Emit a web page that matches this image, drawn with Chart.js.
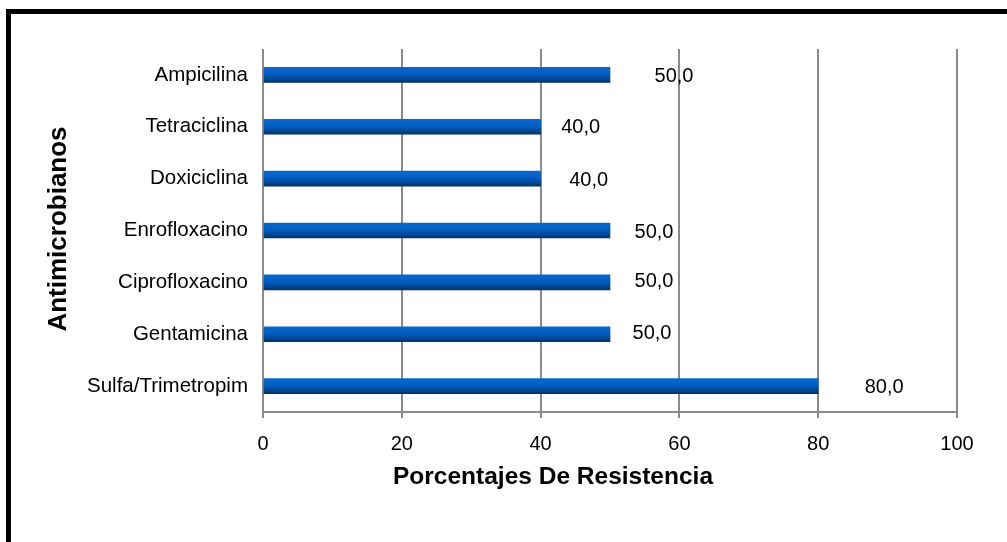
<!DOCTYPE html>
<html>
<head>
<meta charset="utf-8">
<title>Porcentajes De Resistencia</title>
<script src="https://cdn.jsdelivr.net/npm/chart.js@4.4.1/dist/chart.umd.min.js"></script>
<style>
  html, body { margin: 0; padding: 0; background: #fff; overflow: hidden; }
  #wrap { position: relative; width: 1007px; height: 542px; overflow: hidden; }
  #chart { display: block; }
  #frame {
    position: absolute; left: 6px; top: 9px; width: 2000px; height: 2000px;
    border-left: 5px solid #000; border-top: 5px solid #000; pointer-events: none;
  }
</style>
</head>
<body>
<div id="wrap">
  <canvas id="chart" width="1007" height="542"></canvas>
  <div id="frame"></div>
</div>
<script>
// Antimicrobianos y porcentaje de resistencia
const categories = ['Ampicilina', 'Tetraciclina', 'Doxiciclina', 'Enrofloxacino', 'Ciprofloxacino', 'Gentamicina', 'Sulfa/Trimetropim'];
const resistance = [50, 40, 40, 50, 50, 50, 80];
const xTicks = [0, 20, 40, 60, 80, 100];

// small hand placement of each value label beside its bar end (dx, dy in px)
const labelNudge = [[64, 2], [40, 1], [48, 2], [44, 2], [44, -1], [42, -1], [66, 1]];

const FONT = "'Liberation Sans', Arial, Helvetica, sans-serif";
const fmt = v => v.toFixed(1).replace('.', ',');

// cylinder-like shading across each bar
function barFill(ctx) {
  const chart = ctx.chart;
  if (!chart.chartArea || !chart.scales.y) return '#005cc0';
  const yc = chart.scales.y.getPixelForValue(ctx.dataIndex);
  const g = chart.ctx.createLinearGradient(0, yc - 7.5, 0, yc + 7.5);
  g.addColorStop(0, '#0a68cc');
  g.addColorStop(0.45, '#005dc1');
  g.addColorStop(0.8, '#00468f');
  g.addColorStop(1, '#00306a');
  return g;
}

const valueLabels = {
  id: 'valueLabels',
  afterDatasetsDraw(chart) {
    const c = chart.ctx;
    const meta = chart.getDatasetMeta(0);
    c.save();
    c.font = '20px ' + FONT;
    c.fillStyle = '#000';
    c.textAlign = 'center';
    c.textBaseline = 'middle';
    meta.data.forEach((bar, i) => {
      c.fillText(fmt(resistance[i]), bar.x + labelNudge[i][0], bar.y + labelNudge[i][1]);
    });
    c.restore();
  }
};

const axisTitles = {
  id: 'axisTitles',
  afterDraw(chart) {
    const c = chart.ctx;
    c.save();
    c.fillStyle = '#000';
    c.textAlign = 'center';
    c.textBaseline = 'alphabetic';
    c.font = 'bold 24.5px ' + FONT;
    c.fillText('Porcentajes De Resistencia', 553, 484);
    c.font = 'bold 26px ' + FONT;
    c.translate(66, 229);
    c.rotate(-Math.PI / 2);
    c.fillText('Antimicrobianos', 0, 0);
    c.restore();
  }
};

new Chart(document.getElementById('chart'), {
  type: 'bar',
  data: {
    labels: categories,
    datasets: [{
      data: resistance,
      backgroundColor: barFill,
      borderWidth: 0,
      barThickness: 15
    }]
  },
  options: {
    indexAxis: 'y',
    responsive: false,
    animation: false,
    layout: { padding: { top: 49, right: 50, left: 0, bottom: 0 } },
    plugins: { legend: { display: false }, tooltip: { enabled: false } },
    scales: {
      x: {
        min: 0,
        max: 100,
        afterBuildTicks: s => { s.ticks = xTicks.map(v => ({ value: v })); },
        ticks: { color: '#000', font: { family: FONT, size: 20 }, padding: 14, maxRotation: 0 },
        grid: { color: '#8a8a8a', lineWidth: 2, tickLength: 6, drawTicks: true },
        border: { display: true, color: '#8a8a8a', width: 2 },
        afterFit: s => { s.height = 130; }
      },
      y: {
        ticks: { color: '#000', font: { family: FONT, size: 20.5 }, padding: 15 },
        grid: { display: false, drawTicks: false },
        border: { display: false },
        afterFit: s => { s.width = 263; }
      }
    }
  },
  plugins: [valueLabels, axisTitles]
});
</script>
</body>
</html>
